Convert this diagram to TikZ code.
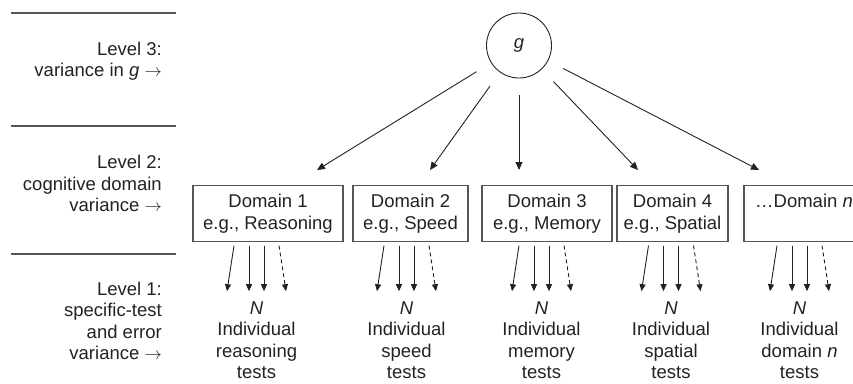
\documentclass[tikz,border=0pt]{standalone}
\usepackage{fontspec}
\setmainfont{Liberation Sans}
\usetikzlibrary{arrows.meta,calc}

\definecolor{inkgray}{HTML}{222222}
\definecolor{linegray}{HTML}{555555}

\begin{document}
\begin{tikzpicture}[x=1pt, y=-1pt,
	txt/.style={font=\fontsize{18.5}{21.5}\selectfont, text=inkgray, inner sep=0pt},
	lvl/.style={txt, align=right, anchor=north east},
	dom/.style={txt, draw=linegray, line width=1.1pt, align=center, minimum height=56pt},
	tests/.style={txt, align=center, anchor=north},
	sep/.style={draw=linegray, line width=1.1pt},
	garrow/.style={draw=inkgray, line width=0.9pt, -{Triangle[length=8pt,width=7pt]}, shorten <=17pt},
	tarrow/.style={draw=inkgray, line width=0.9pt, -{Triangle[length=7pt,width=6pt]}}]
	\useasboundingbox (0,0) rectangle (853,383);

	% Level separators
	\draw[sep] (11,13) -- (176,13);
	\draw[sep] (11,126) -- (176,126);
	\draw[sep] (11,254) -- (176,254);

	% Level labels
	\node[lvl] (lev3) at (162,41.5) {Level 3:\\variance in \textit{g} $\rightarrow$};
	\node[lvl] (lev2) at (162,155) {Level 2:\\cognitive domain\\variance $\rightarrow$};
	\node[lvl] (lev1) at (162,281.5) {Level 1:\\specific-test\\and error\\variance $\rightarrow$};

	% General factor
	\node[txt, draw=inkgray, circle, minimum size=65pt, line width=0.9pt] (g) at (519,45.5) {\textit{g}};

	% Domains
	\node[dom, minimum width=150pt] (d1) at (268,213.5) {Domain 1\\e.g., Reasoning};
	\node[dom, minimum width=115pt] (d2) at (410.5,213.5) {Domain 2\\e.g., Speed};
	\node[dom, minimum width=130pt] (d3) at (547,213.5) {Domain 3\\e.g., Memory};
	\node[dom, minimum width=111pt] (d4) at (672.5,213.5) {Domain 4\\e.g., Spatial};
	\node[dom, minimum width=120pt] (d5) at (804,213.5) {\ldots Domain \textit{n}\\\phantom{e.g.,}};

	% Arrow tips above the domains
	\coordinate (a1) at (317,170);
	\coordinate (a2) at (430,170);
	\coordinate (a3) at (519,170);
	\coordinate (a4) at (638,170);
	\coordinate (a5) at (759,170);
	\foreach \i in {1,...,5}
		\draw[garrow] (g) -- (a\i);

	% Individual tests
	\node[tests] (t1) at (256.5,301.2) {\textit{N}\\Individual\\reasoning\\tests};
	\node[tests] (t2) at (406.5,301.2) {\textit{N}\\Individual\\speed\\tests};
	\node[tests] (t3) at (541.5,301.2) {\textit{N}\\Individual\\memory\\tests};
	\node[tests] (t4) at (671,301.2) {\textit{N}\\Individual\\spatial\\tests};
	\node[tests] (t5) at (799.5,301.2) {\textit{N}\\Individual\\domain \textit{n}\\tests};

	% Test loadings, last one dashed
	\foreach \i in {1,...,5} {
		\draw[tarrow] ($(t\i.north |- d\i.south)+(-22.5,3.5)$) -- ($(t\i.north)+(-29.5,-10)$);
		\draw[tarrow] ($(t\i.north |- d\i.south)+(-7.5,3.5)$) -- ($(t\i.north)+(-7.5,-10)$);
		\draw[tarrow] ($(t\i.north |- d\i.south)+(7.5,3.5)$) -- ($(t\i.north)+(7.5,-10)$);
		\draw[tarrow, dash pattern=on 4pt off 3pt] ($(t\i.north |- d\i.south)+(22.5,3.5)$) -- ($(t\i.north)+(29.5,-10)$);
	}
\end{tikzpicture}
\end{document}
